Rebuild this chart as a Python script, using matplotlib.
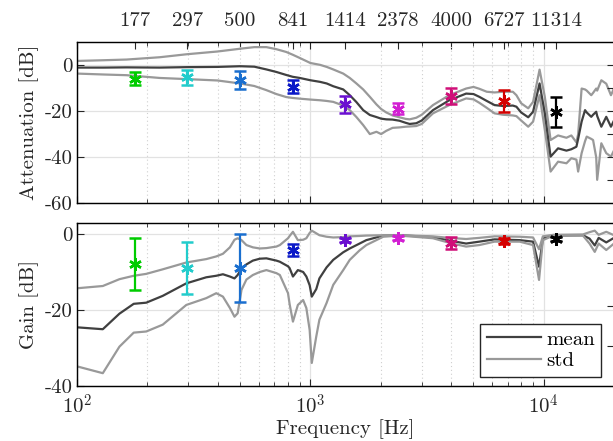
import numpy as np
import matplotlib.pyplot as plt

plt.rcParams['font.family'] = 'serif'
plt.rcParams['font.serif'] = ['cmr10']
plt.rcParams['mathtext.fontset'] = 'cm'
plt.rcParams['axes.unicode_minus'] = False
plt.rcParams['axes.formatter.use_mathtext'] = True

## measurement points (band centres) with error bars
band_freq = [177, 297, 500, 841, 1414, 2378, 4000, 6727, 11314]
band_labels = ['177', '297', '500', '841', '1414', '2378', '4000', '6727', '11314']
band_colors = ['#00cc00', '#22cccc', '#1a6fcf', '#0a18c8', '#6a10d0',
               '#d21fd2', '#d00f78', '#d40000', '#000000']
att_val = [-5.8, -5.3, -6.5, -9.4, -16.9, -18.8, -13.4, -15.5, -20.2]
att_err = [2.7, 3.2, 4.0, 2.8, 3.7, 2.5, 3.6, 4.6, 6.6]
gain_val = [-7.9, -9.0, -9.0, -4.2, -1.6, -1.1, -2.4, -1.8, -1.3]
gain_err = [6.8, 6.8, 9.0, 1.6, 0.6, 0.5, 1.5, 0.8, 0.6]

## attenuation curves (top)
f_att = [100, 130, 163, 226, 295, 400, 500, 575, 648, 715, 788, 840, 900, 1000,
         1100, 1175, 1253, 1383, 1475, 1575, 1684, 1798, 1919, 2010, 2114, 2250,
         2408, 2560, 2663, 2843, 3000, 3352, 3936, 4650, 5000, 5295, 5700, 6155,
         6700, 7370, 7635, 8000, 8580, 9000, 9596, 10105, 10700, 11520, 12510,
         13130, 13800, 14040, 14530, 15030, 15280, 15980, 16270, 16780, 16940,
         17650, 18530, 19410, 20000]
att_hi = [1.9, 2.2, 2.5, 3.5, 4.8, 6.0, 7.2, 7.9, 7.9, 7.0, 5.8, 4.6, 3.2, 1.0,
          0.2, -0.7, -1.8, -3.6, -5.5, -7.9, -10.5, -13.7, -17, -19, -20.5, -21.8,
          -22.6, -23.3, -23.5, -22.8, -21.5, -17.3, -13.0, -10.1, -9.4, -10.2, -11.5, -11.8,
          -11.5, -11.5, -13, -16.5, -18.7, -15.9, -1.9, -13.7, -32.5, -30.5, -31.5,
          -30.5, -33.5, -30, -10.1, -10.5, -11, -13, -12, -10.1, -11,
          -6.5, -8, -13, -10]
att_mean = [-1.0, -1.0, -0.9, -1.0, -0.8, -0.7, -0.4, -0.6, -1.8, -2.9, -4.2, -5.0, -5.5, -6.5,
            -7.2, -7.9, -9.1, -10.5, -13, -16, -19.5, -21.6, -22.5, -23.2, -23.5, -23.6,
            -24.1, -25, -25.5, -25.2, -24, -19.5, -15.2, -12.3, -12.5, -13.7, -15.5, -17.3,
            -17.7, -17.5, -18, -20.5, -22.6, -20.2, -7.9, -20.9, -39.7, -36.1, -37.1,
            -36.5, -35.4, -32, -24.5, -19.5, -20.5, -22.4, -21.5, -20.2, -22,
            -26.7, -22.4, -26.7, -24]
att_lo = [-3.6, -4.0, -4.3, -5.5, -6.0, -6.6, -7.9, -9.0, -10.8, -12.5, -13.8, -14.2, -14.5, -14.9,
          -15.2, -15.5, -15.9, -17.5, -19.5, -22.5, -26, -29.9, -28.9, -29.9, -28.5, -27.2,
          -27, -26.7, -26.6, -26.4, -25.5, -20.9, -17.3, -14.4, -14.8, -16.3, -18.5, -20.9,
          -21.5, -21.8, -22.1, -24, -26.7, -24.5, -13, -28, -46.2, -41.9, -42.6,
          -40.4, -41, -46.2, -38.2, -33, -31, -32, -32.5, -40, -49.8,
          -33.9, -38.2, -39.7, -37]

## gain curves (bottom)
f_gain = [100, 129, 152, 175, 198, 233, 294, 358, 395, 422, 452, 473, 488, 507, 532,
          567, 607, 648, 715, 740, 802, 815, 842, 884, 931, 961, 993, 1014, 1060, 1093,
          1173, 1253, 1383, 1475, 1625, 1737, 2052, 2408, 3352, 3936, 4649, 5295, 6155,
          7885, 8998, 9546, 9912, 11000, 14720, 15710, 16540, 17190, 18530, 20000]
gain_hi = [-14.3, -13.7, -11.9, -11.0, -10.5, -9.3, -7.5, -6.6, -5.9, -5.2, -3.5, -1.5, -1.1, -1.6, -2.9,
           -3.5, -3.8, -3.7, -3.3, -2.9, -1.1, -0.5, 0.6, -1.6, -1.5, -1.1, 0.3, 0.9, 0.2, -0.3,
           -0.7, -0.9, -0.8, -0.6, -0.5, -0.4, -0.3, -0.3, -0.6, -1.0, -1.3, -1.0, -0.6,
           -0.7, -0.9, -4.0, -0.6, -0.2, -0.1, 0.5, 0.9, -0.2, 0.6, -0.3]
gain_mean = [-24.6, -25.1, -21.0, -18.4, -18.1, -16.3, -13.0, -11.4, -11.0, -10.6, -11.2, -11.7, -10.8, -9.0, -8.0,
             -7.0, -6.5, -6.4, -7.0, -7.3, -8.5, -9.0, -11.2, -9.5, -10.0, -11.2, -13.5, -16.5, -14.5, -11.7,
             -8.8, -6.8, -4.8, -3.8, -2.5, -1.6, -0.4, -0.3, -0.8, -1.7, -2.5, -2.0, -1.4,
             -1.6, -2.0, -8.6, -1.2, -0.4, -0.3, -1.2, -3.0, -1.0, -2.2, -1.0]
gain_lo = [-34.9, -36.7, -29.7, -26.0, -25.7, -23.9, -18.7, -16.9, -15.6, -16.5, -19.5, -21.8, -20.9, -14.7, -12.0,
           -10.8, -10.0, -9.5, -10.3, -10.8, -15.6, -18.5, -23.1, -18.7, -17.4, -19.5, -25.3, -34.0, -27.0, -22.6,
           -18.2, -13.4, -9.5, -6.8, -4.3, -2.9, -0.7, -0.4, -1.1, -2.3, -3.3, -2.9, -2.0,
           -2.0, -2.9, -12.1, -1.6, -0.4, -0.4, -2.5, -4.7, -2.5, -4.2, -2.5]

MEAN_C = '#404040'
STD_C = '#999999'
AX_C = '#262626'
FS = 15


def style_axis(ax, ylim, yticks):
    ax.set_xscale('log')
    ax.set_xlim(100, 20000)
    ax.set_ylim(*ylim)
    ax.set_yticks(yticks)
    ax.set_yticklabels(['%d' % v for v in yticks])
    ax.grid(True, which='major', color='#e2e2e2', lw=0.9, ls='-')
    ax.grid(True, which='minor', axis='x', color='#cfcfcf', lw=0.8, ls=(0, (1, 2.5)))
    ax.set_axisbelow(True)
    ax.tick_params(which='both', direction='in', top=True, right=False,
                   labelsize=FS, colors=AX_C, labelcolor=AX_C)
    ax.tick_params(which='major', length=5)
    ax.tick_params(which='minor', length=3)
    ax.tick_params(axis='y', pad=3)
    for s in ax.spines.values():
        s.set_color(AX_C)
        s.set_linewidth(1.0)


def draw_points(ax, vals, errs):
    for f, v, e, c in zip(band_freq, vals, errs, band_colors):
        ax.errorbar(f, v, yerr=e, color=c, marker=(6, 2, 0), markersize=9,
                    markeredgewidth=1.8, elinewidth=1.6, capsize=4, capthick=1.6,
                    zorder=5)


fig = plt.figure(figsize=(6.13, 4.41), dpi=100)
ax_att = fig.add_axes([77 / 613, 1 - 203.3 / 441, 537 / 613, 161 / 441])
ax_gain = fig.add_axes([77 / 613, 1 - 385.7 / 441, 537 / 613, 163 / 441])

## Attenuation
ax_att.plot(f_att, att_hi, color=STD_C, lw=1.6)
ax_att.plot(f_att, att_lo, color=STD_C, lw=1.6)
ax_att.plot(f_att, att_mean, color=MEAN_C, lw=1.6)
draw_points(ax_att, att_val, att_err)
style_axis(ax_att, (-60, 10), [-60, -40, -20, 0])
ax_att.tick_params(labelbottom=False)
ax_att.set_ylabel('Attenuation [dB]', fontsize=FS, color=AX_C, labelpad=4)

top = ax_att.secondary_xaxis('top')
top.set_xticks(band_freq)
top.set_xticklabels(band_labels)
top.xaxis.set_minor_locator(plt.NullLocator())
top.tick_params(direction='in', length=5, labelsize=FS, colors=AX_C, pad=9)
top.spines['top'].set_visible(False)

right = ax_att.twinx()
right.set_ylim(-60, 10)
right.set_yticks([-50, -40, -30, -20, -10, 0])
right.tick_params(direction='in', length=5, labelright=False, colors=AX_C)

## Gain
l_mean, = ax_gain.plot(f_gain, gain_mean, color=MEAN_C, lw=1.6)
l_std, = ax_gain.plot(f_gain, gain_hi, color=STD_C, lw=1.6)
ax_gain.plot(f_gain, gain_lo, color=STD_C, lw=1.6)
draw_points(ax_gain, gain_val, gain_err)
style_axis(ax_gain, (-40, 3), [-40, -20, 0])
ax_gain.set_xticks([100, 1000, 10000])
ax_gain.set_xticklabels(['$10^{2}$', '$10^{3}$', '$10^{4}$'])
ax_gain.tick_params(axis='x', pad=6)
ax_gain.set_ylabel('Gain [dB]', fontsize=FS, color=AX_C, labelpad=4)
ax_gain.set_xlabel('Frequency [Hz]', fontsize=FS, color=AX_C, labelpad=1)

right2 = ax_gain.twinx()
right2.set_ylim(-40, 3)
right2.set_yticks([-29.5, -19, -7.6])
right2.tick_params(direction='in', length=5, labelright=False, colors=AX_C)

leg = ax_gain.legend([l_mean, l_std], ['mean', 'std'], loc='lower right',
                     bbox_to_anchor=(0.976, 0.055), borderaxespad=0,
                     fontsize=FS, fancybox=False, framealpha=1, edgecolor=AX_C,
                     handlelength=2.6, handletextpad=0.25, labelspacing=0.15,
                     borderpad=0.3)
leg.get_frame().set_linewidth(1.0)

fig.savefig('out.png', dpi=100)
